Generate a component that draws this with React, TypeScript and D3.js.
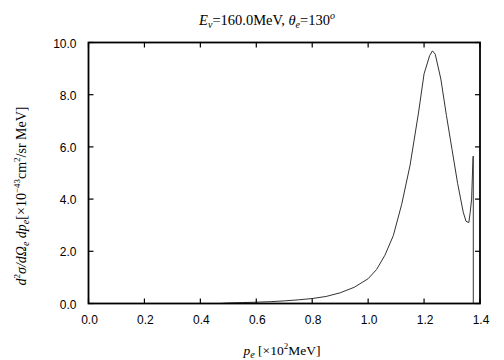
import React, { useEffect, useRef } from "react";
import * as d3 from "d3";

const pe = [0.47, 0.5, 0.55, 0.6, 0.65, 0.7, 0.75, 0.8, 0.85, 0.9, 0.95, 1.0, 1.03, 1.06, 1.09, 1.12, 1.15, 1.18, 1.2, 1.22, 1.23, 1.24, 1.26, 1.28, 1.3, 1.32, 1.34, 1.35, 1.36, 1.365, 1.37, 1.375, 1.376, 1.376];
const xs = [0.0, 0.02, 0.035, 0.05, 0.07, 0.1, 0.14, 0.19, 0.27, 0.41, 0.62, 0.95, 1.3, 1.85, 2.6, 3.8, 5.3, 7.3, 8.8, 9.5, 9.68, 9.55, 8.6, 7.2, 5.9, 4.6, 3.5, 3.15, 3.1, 3.5, 4.0, 5.6, 5.65, 0];
const xTicks = [0, 0.2, 0.4, 0.6, 0.8, 1.0, 1.2, 1.4];
const yTicks = [0, 2, 4, 6, 8, 10];

const serif = "'Liberation Serif', 'Times New Roman', serif";
const sans = "'Liberation Sans', Arial, sans-serif";

export default function App() {
  const ref = useRef<SVGSVGElement>(null);
  useEffect(() => {
    const svg = d3.select(ref.current);
    svg.select("g.plot").remove();
    const L = 88.5, R = 480, T = 42.5, B = 303.5;
    const x = d3.scaleLinear().domain([0, 1.4]).range([L, R]);
    const y = d3.scaleLinear().domain([0, 10]).range([B, T]);
    const g = svg.append("g").attr("class", "plot");
    const data = pe.map((p, i) => [p, xs[i]] as [number, number]);
    g.append("path")
      .attr("d", d3.line().x(d => x(d[0])).y(d => y(d[1]))(data))
      .attr("fill", "none").attr("stroke", "#333").attr("stroke-width", 1);
    const tl = 5;
    xTicks.forEach(t => {
      g.append("line").attr("x1", x(t)).attr("x2", x(t)).attr("y1", B).attr("y2", B - tl).attr("stroke", "#000").attr("stroke-width", 1.2);
      g.append("line").attr("x1", x(t)).attr("x2", x(t)).attr("y1", T).attr("y2", T + tl).attr("stroke", "#000").attr("stroke-width", 1.2);
      g.append("text").attr("x", x(t) + 1).attr("y", B + 20).attr("text-anchor", "middle")
        .attr("font-family", sans).attr("font-size", 12).text(t.toFixed(1));
    });
    yTicks.forEach(t => {
      g.append("line").attr("x1", L).attr("x2", L + tl).attr("y1", y(t)).attr("y2", y(t)).attr("stroke", "#000").attr("stroke-width", 1.2);
      g.append("line").attr("x1", R).attr("x2", R - tl).attr("y1", y(t)).attr("y2", y(t)).attr("stroke", "#000").attr("stroke-width", 1.2);
      g.append("text").attr("x", L - 12).attr("y", y(t) + 5).attr("text-anchor", "end")
        .attr("font-family", sans).attr("font-size", 12).text(t.toFixed(1));
    });
    g.append("rect").attr("x", L).attr("y", T).attr("width", R - L).attr("height", B - T)
      .attr("fill", "none").attr("stroke", "#000").attr("stroke-width", 1.8);
  }, []);

  return (
    <svg ref={ref} width={504} height={360} style={{ position: "absolute", left: 0, top: 0 }}>
      <text x={267} y={25} textAnchor="middle" fontFamily={serif} fontSize={14.5}>
        <tspan fontStyle="italic">E</tspan>
        <tspan fontStyle="italic" fontSize={10} baselineShift={-3}>ν</tspan>
        <tspan>=160.0MeV,  </tspan>
        <tspan fontStyle="italic">θ</tspan>
        <tspan fontStyle="italic" fontSize={10} baselineShift={-3}>e</tspan>
        <tspan>=130</tspan>
        <tspan fontStyle="italic" fontSize={10} baselineShift={6}>o</tspan>
      </text>
      <text x={282} y={355} textAnchor="middle" fontFamily={serif} fontSize={13.5}>
        <tspan fontStyle="italic">p</tspan>
        <tspan fontStyle="italic" fontSize={10} baselineShift={-3}>e</tspan>
        <tspan> [×10</tspan>
        <tspan fontSize={9} baselineShift={6}>2</tspan>
        <tspan>MeV]</tspan>
      </text>
      <text transform="translate(26,196) rotate(-90)" textAnchor="middle" fontFamily={serif} fontSize={14}>
        <tspan fontStyle="italic">d</tspan>
        <tspan fontSize={9} baselineShift={6}>2</tspan>
        <tspan fontStyle="italic">σ/dΩ</tspan>
        <tspan fontStyle="italic" fontSize={10} baselineShift={-3}>e</tspan>
        <tspan fontStyle="italic"> dp</tspan>
        <tspan fontStyle="italic" fontSize={10} baselineShift={-3}>e</tspan>
        <tspan>[×10</tspan>
        <tspan fontSize={9} baselineShift={6}>−43</tspan>
        <tspan>cm</tspan>
        <tspan fontSize={9} baselineShift={6}>2</tspan>
        <tspan>/sr MeV]</tspan>
      </text>
    </svg>
  );
}
